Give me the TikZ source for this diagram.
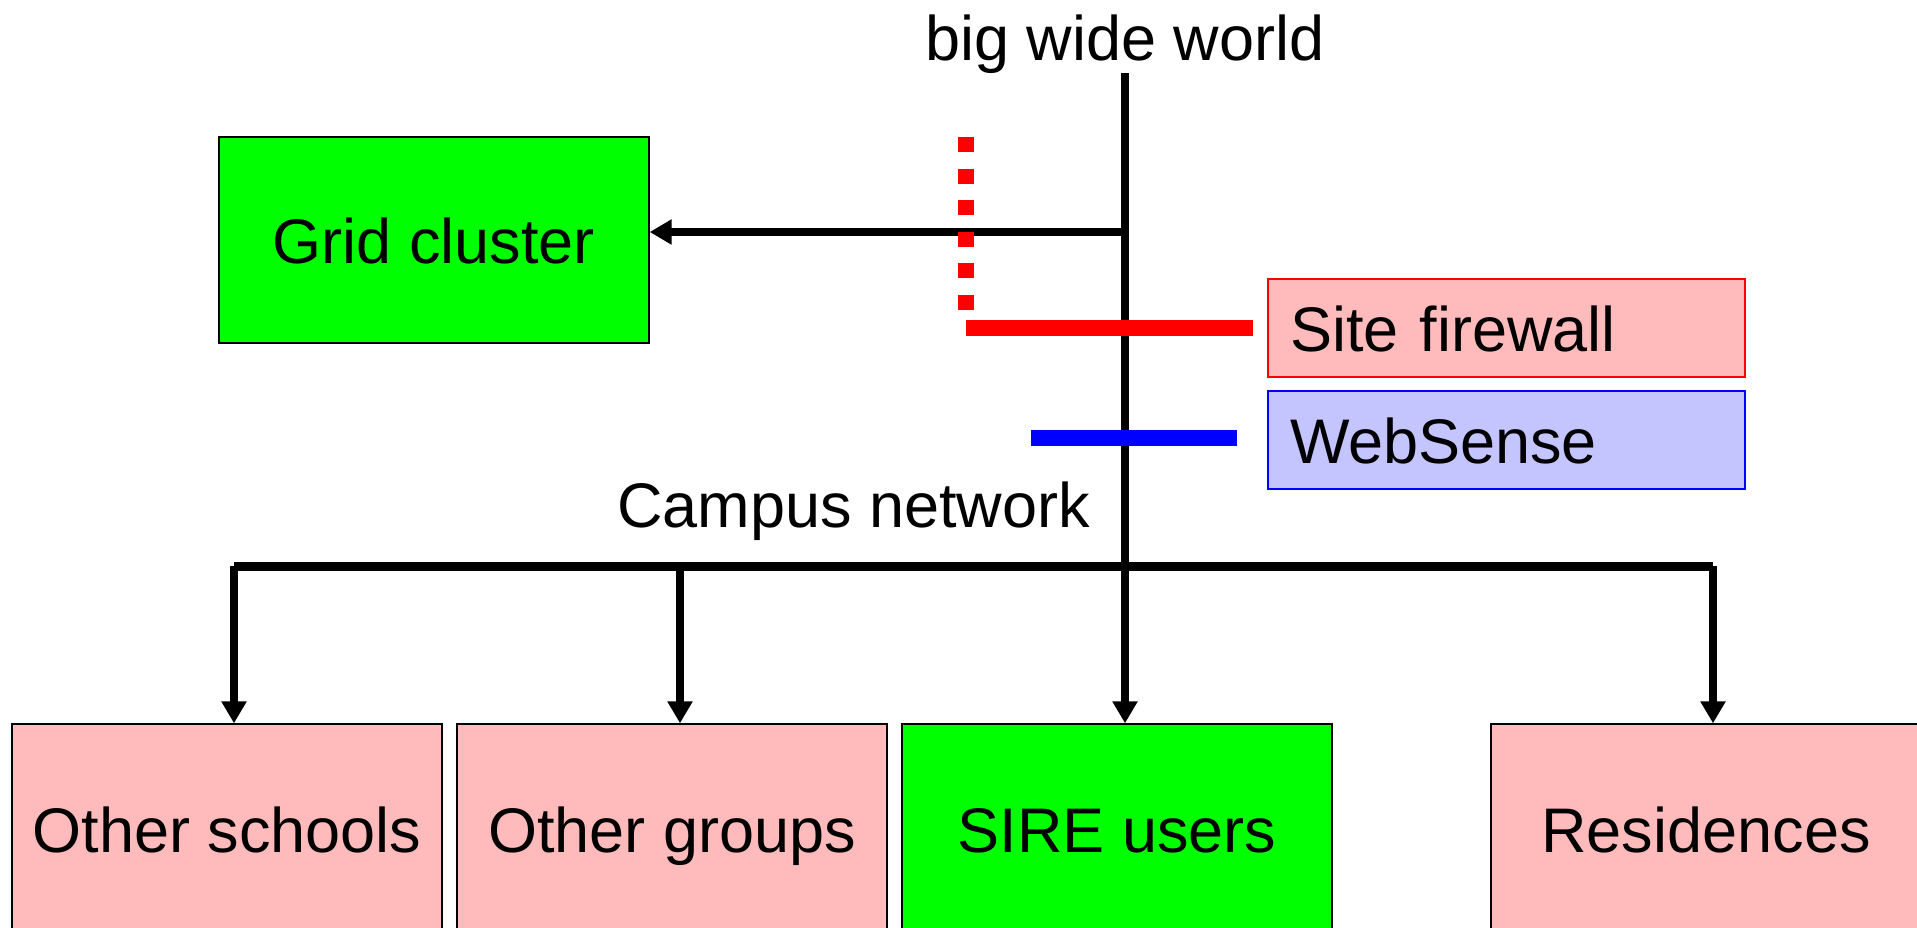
\documentclass[tikz,border=0pt]{standalone}
\usepackage{fontspec}
\setmainfont{Liberation Sans}
\usetikzlibrary{arrows.meta}
\definecolor{boxpink}{HTML}{FFBBBB}
\definecolor{boxblue}{HTML}{C4C4FF}
\definecolor{boxgreen}{HTML}{00FF00}
\tikzset{
  bigbox/.style={draw=black, line width=0.7pt, minimum width=215pt, minimum height=105pt,
    inner sep=0pt, text height=23pt, text depth=0pt, anchor=center},
  pinkbox/.style={bigbox, fill=boxpink},
  greenbox/.style={bigbox, fill=boxgreen},
  tagbox/.style={line width=0.7pt, minimum height=49pt, text width=216.5pt, inner xsep=11pt,
    inner ysep=0pt, align=left, text height=23pt, text depth=0pt},
  wire/.style={line width=3.75pt, draw=black},
  arrowwire/.style={wire, -{Triangle[width=12pt,length=11pt]}},
  busline/.style={line width=4.5pt, draw=black},
  bar/.style={line width=8pt},
}
\begin{document}
\begin{tikzpicture}[x=0.5pt, y=-0.5pt, font=\fontsize{31.5}{38}\selectfont]
\useasboundingbox (0,0) rectangle (1917,927);
\clip (0,0) rectangle (1917,927);

% nodes
\node[anchor=base] (bww) at (1125,60) {big wide world};
\node[anchor=base east] (campus) at (1097,527) {Campus network};
\node[greenbox, minimum height=103pt] (grid) at (434,240) {Grid cluster};
\node[tagbox, fill=boxpink, draw=red] (fw) at (1506.5,328) {Site firewall};
\node[tagbox, fill=boxblue, draw=blue] (ws) at (1506.5,440) {WebSense};
\node[pinkbox] (schools) at (227,829) {Other schools};
\node[pinkbox] (groups) at (672,829) {Other groups};
\node[greenbox] (sire) at (1117,829) {SIRE users};
\node[pinkbox] (res) at (1706,829) {Residences};

% coordinates
\coordinate (top) at (1125,73);
\coordinate (gj) at (1125,232);
\coordinate (busL) at (234,566);
\coordinate (busG) at (680,566);
\coordinate (busR) at (1713,566);
\coordinate (fwL) at (966,328);
\coordinate (fwR) at (1253,328);
\coordinate (dotT) at (966,137);
\coordinate (dotB) at (966,311);
\coordinate (wsL) at (1031,438);
\coordinate (wsR) at (1237,438);

% wires
\draw[busline] (busL) -- (busR);
\draw[arrowwire] (top) -- (top |- sire.north);
\draw[arrowwire] (gj) -- (gj -| grid.east);
\draw[arrowwire] (busL) -- (busL |- schools.north);
\draw[arrowwire] (busG) -- (busG |- groups.north);
\draw[arrowwire] (busR) -- (busR |- res.north);

% firewall marks
\draw[bar, red] (fwL) -- (fwR);
\draw[bar, red, dash pattern=on 7.5pt off 8.3pt] (dotT) -- (dotB);
\draw[bar, blue] (wsL) -- (wsR);
\end{tikzpicture}
\end{document}
